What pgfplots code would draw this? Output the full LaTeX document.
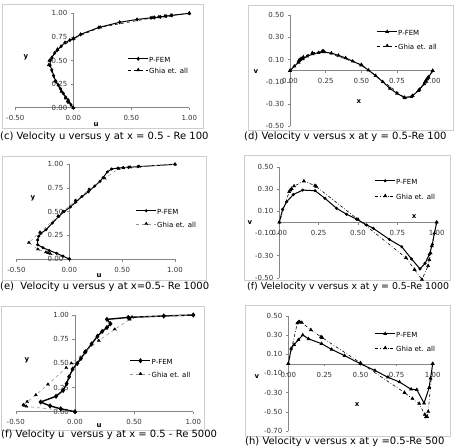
\documentclass[border=0pt]{standalone}
\usepackage{fontspec}
\setmainfont{DejaVu Sans}
\usepackage{pgfplots}
\pgfplotsset{compat=1.18}
\definecolor{axisgray}{RGB}{134,134,134}
\definecolor{framegray}{RGB}{205,205,205}
\definecolor{ghiagray}{RGB}{150,150,150}

\pgfplotsset{
  excel/.style={
    scale only axis, anchor=south west,
    axis lines=middle, axis line style={draw=axisgray, line width=0.5pt, -},
    tick align=outside, major tick length=2.5pt,
    tick style={draw=axisgray, line width=0.5pt},
    tick label style={font=\fontsize{7}{8}\selectfont, text=black!80},
    hide obscured x ticks=false, hide obscured y ticks=false,
    xticklabel style={yshift=-2pt},
    enlargelimits=false, clip=false,
    legend cell align=left,
    legend style={draw=none, fill=none, inner sep=0pt, anchor=west,
      font=\fontsize{7}{8}\selectfont,
      nodes={inner sep=0.5pt, text height=5pt, text depth=1.5pt}},
    legend image code/.code={\draw[mark repeat=2, mark phase=2, ##1]
      plot coordinates {(0pt,2.2pt) (10pt,2.2pt) (20pt,2.2pt)};},
  },
  uplot/.style={excel, xmin=-0.5, xmax=1, ymin=0, ymax=1,
    xtick={-0.5,0,0.5,1}, xticklabels={-0.50,0.00,0.50,1.00},
    ytick={0,0.25,0.5,0.75,1}, yticklabels={0.00,0.25,0.50,0.75,1.00}},
  vplot/.style={excel, xmin=0, xmax=1, ymin=-0.5, ymax=0.5,
    xtick={0,0.25,0.5,0.75,1}, xticklabels={0.00,0.25,0.50,0.75,1.00},
    ytick={-0.5,-0.3,-0.1,0.1,0.3,0.5},
    yticklabels={-0.50,-0.30,-0.10,0.10,0.30,0.50}},
  fem/.style={black, line width=1pt, mark size=1.3pt},
  ghia/.style={black, line width=0.6pt, mark=triangle*, mark size=1.7pt,
    mark options={solid}},
}
\newcommand\axlabel[3]{\node[font=\bfseries\fontsize{7}{8}\selectfont] at (#1pt,-#2pt) {#3};}
\newcommand\panelcaption[4][10]{\node[anchor=west, inner sep=0pt, font=\fontsize{#1}{12}\selectfont] at (#2pt,-#3pt) {#4};}

\begin{document}
\begin{tikzpicture}
\useasboundingbox (0,0) rectangle (454pt,-447pt);

% chart area frames
\draw[framegray, line width=0.6pt] (2pt,-4pt) rectangle (203pt,-128pt);
\draw[framegray, line width=0.6pt] (248pt,-5pt) rectangle (453pt,-130pt);
\draw[framegray, line width=0.6pt] (2pt,-156pt) rectangle (206pt,-280pt);
\draw[framegray, line width=0.6pt] (244pt,-155pt) rectangle (450pt,-280pt);
\draw[framegray, line width=0.6pt] (1pt,-306pt) rectangle (204pt,-430pt);
\draw[framegray, line width=0.6pt] (245pt,-305pt) rectangle (450pt,-436pt);

% (c) u along x = 0.5, Re 100
\begin{axis}[uplot, at={(15.3pt,-107.7pt)}, width=174pt, height=94.4pt,
  legend style={at={(0.645,0.436)}, row sep=3.5pt}]
\addplot[fem, mark=diamond*] coordinates {(0,0)(-0.02,0.03)(-0.043,0.08)(-0.065,0.11)(-0.086,0.15)(-0.11,0.20)(-0.13,0.24)(-0.15,0.28)(-0.17,0.34)(-0.185,0.40)(-0.2,0.45)(-0.198,0.50)(-0.185,0.53)(-0.16,0.58)(-0.138,0.61)(-0.105,0.65)(-0.072,0.69)(-0.03,0.715)(0,0.73)(0.063,0.777)(0.22,0.85)(0.40,0.905)(0.55,0.935)(0.67,0.952)(0.70,0.955)(0.75,0.962)(0.80,0.97)(0.85,0.978)(1,1)};
\addplot[ghia, dashed] coordinates {(1.0,1.0)(0.84123,0.9766)(0.78871,0.9688)(0.73722,0.9609)(0.68717,0.9531)(0.23151,0.8516)(0.00332,0.7344)(-0.13641,0.6172)(-0.20581,0.5000)(-0.21090,0.4531)(-0.15662,0.2813)(-0.10150,0.1719)(-0.06434,0.1016)(-0.04775,0.0703)(-0.04192,0.0625)(-0.03717,0.0547)(0,0)};
\legend{P-FEM, Ghia et. all}
\end{axis}

% (d) v along y = 0.5, Re 100
\begin{axis}[vplot, at={(290pt,-126.2pt)}, width=142.7pt, height=111pt,
  legend style={at={(0.606,0.768)}, row sep=6.5pt}]
\addplot[fem, mark=triangle*] coordinates {(0,0)(0.03,0.04)(0.06,0.075)(0.09,0.105)(0.12,0.13)(0.16,0.15)(0.2,0.162)(0.24,0.168)(0.29,0.158)(0.34,0.138)(0.39,0.115)(0.44,0.085)(0.5,0.05)(0.55,0.005)(0.6,-0.045)(0.65,-0.1)(0.7,-0.16)(0.75,-0.205)(0.8,-0.24)(0.85,-0.235)(0.9,-0.18)(0.94,-0.12)(0.97,-0.06)(1,0)};
\addplot[ghia, dashed] coordinates {(1,0)(0.9688,-0.05906)(0.9609,-0.07391)(0.9531,-0.08864)(0.9453,-0.10313)(0.9063,-0.16914)(0.8594,-0.22445)(0.8047,-0.24533)(0.5,0.05454)(0.2344,0.17527)(0.2266,0.17507)(0.1563,0.16077)(0.0938,0.12317)(0.0781,0.10890)(0.0703,0.10091)(0.0625,0.09233)(0,0)};
\legend{P-FEM, Ghia et. all}
\end{axis}

% (e) u along x = 0.5, Re 1000
\begin{axis}[uplot, at={(16.5pt,-259pt)}, width=158.5pt, height=94.7pt,
  legend style={at={(0.751,0.417)}, row sep=5.5pt}]
\addplot[fem, mark=*, mark size=1pt] coordinates {(1,1)(0.65,0.975)(0.56,0.968)(0.51,0.965)(0.46,0.96)(0.40,0.95)(0.36,0.92)(0.32,0.86)(0.29,0.82)(0.24,0.77)(0.18,0.71)(0.12,0.66)(0.06,0.60)(0.01,0.55)(-0.05,0.50)(-0.10,0.45)(-0.16,0.38)(-0.22,0.31)(-0.27,0.27)(-0.29,0.24)(-0.30,0.20)(-0.30,0.15)(-0.25,0.12)(-0.19,0.09)(-0.12,0.06)(-0.06,0.03)(0,0)};
\addplot[ghia, ghiagray, dashed, mark options={black}] coordinates {(1,1)(0.65928,0.9766)(0.57492,0.9688)(0.51117,0.9609)(0.46604,0.9531)(0.33304,0.8516)(0.18719,0.7344)(0.05702,0.6172)(-0.06080,0.5)(-0.10648,0.4531)(-0.27805,0.2813)(-0.38289,0.1719)(-0.29730,0.1016)(-0.22220,0.0703)(-0.20196,0.0625)(-0.18109,0.0547)(0,0)};
\legend{P-FEM, Ghia et. all}
\end{axis}

% (f) v along y = 0.5, Re 1000
\begin{axis}[vplot, at={(279.3pt,-277.8pt)}, width=157.4pt, height=111pt,
  legend style={at={(0.605,0.786)}, row sep=7.5pt}]
\addplot[fem, mark=*, mark size=1pt] coordinates {(0,0)(0.021,0.117)(0.047,0.186)(0.089,0.25)(0.148,0.29)(0.227,0.285)(0.29,0.216)(0.364,0.126)(0.428,0.072)(0.49,0.03)(0.555,-0.024)(0.597,-0.054)(0.70,-0.155)(0.778,-0.22)(0.84,-0.33)(0.894,-0.42)(0.926,-0.37)(0.953,-0.29)(0.972,-0.2)(0.985,-0.1)(1,0)};
\addplot[ghia, dash dot] coordinates {(1,0)(0.9688,-0.21388)(0.9609,-0.27669)(0.9531,-0.33714)(0.9453,-0.39188)(0.9063,-0.51550)(0.8594,-0.42665)(0.8047,-0.31966)(0.5,0.02526)(0.2344,0.32235)(0.2266,0.33075)(0.1563,0.37095)(0.0938,0.32627)(0.0781,0.30353)(0.0703,0.29012)(0.0625,0.27485)(0,0)};
\legend{P-FEM, Ghia et. all}
\end{axis}

% u along x = 0.5, Re 5000
\begin{axis}[uplot, at={(15.8pt,-411.7pt)}, width=177.5pt, height=96.7pt,
  legend style={at={(0.641,0.436)}, row sep=5.5pt}]
\addplot[fem, line width=1.4pt, mark=diamond*, mark size=1.5pt] coordinates {(1,1)(0.75,0.99)(0.45,0.975)(0.27,0.955)(0.30,0.91)(0.27,0.87)(0.23,0.83)(0.19,0.78)(0.14,0.70)(0.09,0.62)(0.05,0.55)(0.02,0.50)(-0.02,0.44)(-0.05,0.36)(-0.07,0.29)(-0.10,0.22)(-0.16,0.16)(-0.29,0.10)(-0.21,0.06)(-0.12,0.03)(0,0)};
\addplot[ghia, ghiagray, dashed, mark options={black}] coordinates {(1,1)(0.48223,0.9766)(0.46120,0.9688)(0.45992,0.9609)(0.46036,0.9531)(0.33556,0.8516)(0.20087,0.7344)(0.08183,0.6172)(-0.03039,0.5)(-0.07404,0.4531)(-0.22855,0.2813)(-0.33050,0.1719)(-0.40435,0.1016)(-0.43643,0.0703)(-0.42901,0.0625)(-0.41165,0.0547)(0,0)};
\legend{P-FEM, Ghia et. all}
\end{axis}

% (h) v along y = 0.5
\begin{axis}[vplot, at={(288.3pt,-431pt)}, width=144.4pt, height=115.2pt,
  ymin=-0.7, ytick={-0.7,-0.5,-0.3,-0.1,0.1,0.3,0.5},
  yticklabels={-0.70,-0.50,-0.30,-0.10,0.10,0.30,0.50},
  legend style={at={(0.597,0.764)}, row sep=6.5pt}]
\addplot[fem, mark=triangle*] coordinates {(0,0)(0.02,0.16)(0.04,0.2)(0.07,0.25)(0.1,0.3)(0.14,0.26)(0.23,0.21)(0.30,0.15)(0.39,0.085)(0.5,0.0)(0.6,-0.07)(0.69,-0.14)(0.77,-0.19)(0.85,-0.265)(0.89,-0.27)(0.94,-0.41)(0.975,-0.25)(0.985,-0.15)(1,0)};
\addplot[ghia, dash dot] coordinates {(1,0)(0.9688,-0.49774)(0.9609,-0.55069)(0.9531,-0.55408)(0.9453,-0.52876)(0.9063,-0.41442)(0.8594,-0.36214)(0.8047,-0.30018)(0.5,0.00945)(0.2344,0.27280)(0.2266,0.28066)(0.1563,0.35368)(0.0938,0.42951)(0.0781,0.43648)(0.0703,0.43329)(0.0625,0.42447)(0,0)};
\legend{P-FEM, Ghia et. all}
\end{axis}

% axis titles
\axlabel{96}{125}{u}   \axlabel{26}{57}{y}
\axlabel{256}{72}{v}   \axlabel{359}{102}{x}
\axlabel{99}{276}{u}   \axlabel{33}{198}{y}
\axlabel{250}{223}{v}  \axlabel{414}{217}{x}
\axlabel{99}{426}{u}   \axlabel{27}{360}{y}
\axlabel{257}{377}{v}  \axlabel{357}{405}{x}

% captions
\panelcaption{0}{137}{(c) Velocity u versus y at x = 0.5 - Re 100}
\panelcaption{244}{137}{(d) Velocity v versus x at y = 0.5-Re 100}
\panelcaption{0}{287}{(e)\ \ Velocity u versus y at x=0.5- Re 1000}
\panelcaption[9.4]{247}{287}{(f) Velelocity v versus x at y = 0.5-Re 1000}
\panelcaption{1}{435}{(f) Velocity u\ \ versus y at x = 0.5 - Re 5000}
\panelcaption{245}{442}{(h) Velocity v versus x at y =0.5-Re 500}
\end{tikzpicture}
\end{document}
